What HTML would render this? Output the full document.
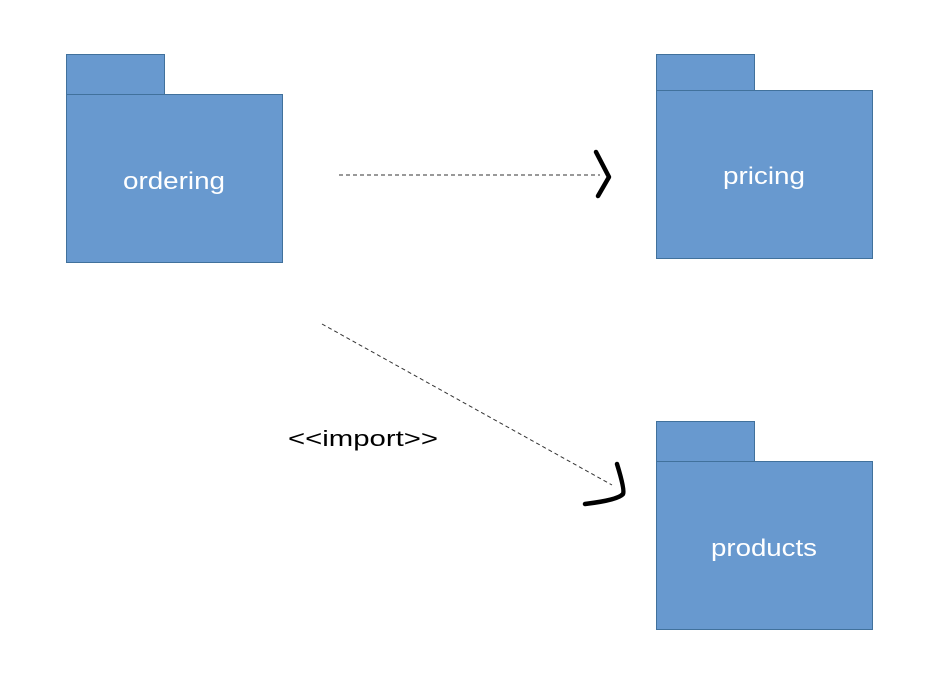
<!DOCTYPE html>
<html><head><style>body{margin:0;background:#fff}svg{display:block}</style></head><body>
<svg width="942" height="674" xmlns="http://www.w3.org/2000/svg" font-family="'Liberation Sans', sans-serif">
<g fill="#6899cf" stroke="#41719c" stroke-width="1">
<rect x="66.5" y="54.5" width="98" height="40"/>
<rect x="66.5" y="94.5" width="216" height="168"/>
<rect x="656.5" y="54.5" width="98" height="40"/>
<rect x="656.5" y="90.5" width="216" height="168"/>
<rect x="656.5" y="421.5" width="98" height="40"/>
<rect x="656.5" y="461.5" width="216" height="168"/>
</g>
<g fill="#fff" font-size="24" text-anchor="middle">
<text x="174" y="189" textLength="102" lengthAdjust="spacingAndGlyphs">ordering</text>
<text x="764" y="184" textLength="82" lengthAdjust="spacingAndGlyphs">pricing</text>
<text x="764" y="556" textLength="106" lengthAdjust="spacingAndGlyphs">products</text>
</g>
<g stroke="#333" stroke-width="1" stroke-dasharray="4,3" fill="none">
<line x1="339" y1="175" x2="600" y2="175"/>
<line x1="322" y1="324" x2="612" y2="485"/>
</g>
<g stroke="#000" stroke-width="4.5" stroke-linecap="round" stroke-linejoin="round" fill="none">
<polyline points="596,152 609,177 598,196"/>
<path d="M617,464 Q625,490 623,494 Q618,500 585,504"/>
</g>
<text x="288" y="446" font-size="22" fill="#000" textLength="150" lengthAdjust="spacingAndGlyphs">&lt;&lt;import&gt;&gt;</text>
</svg>
</body></html>
